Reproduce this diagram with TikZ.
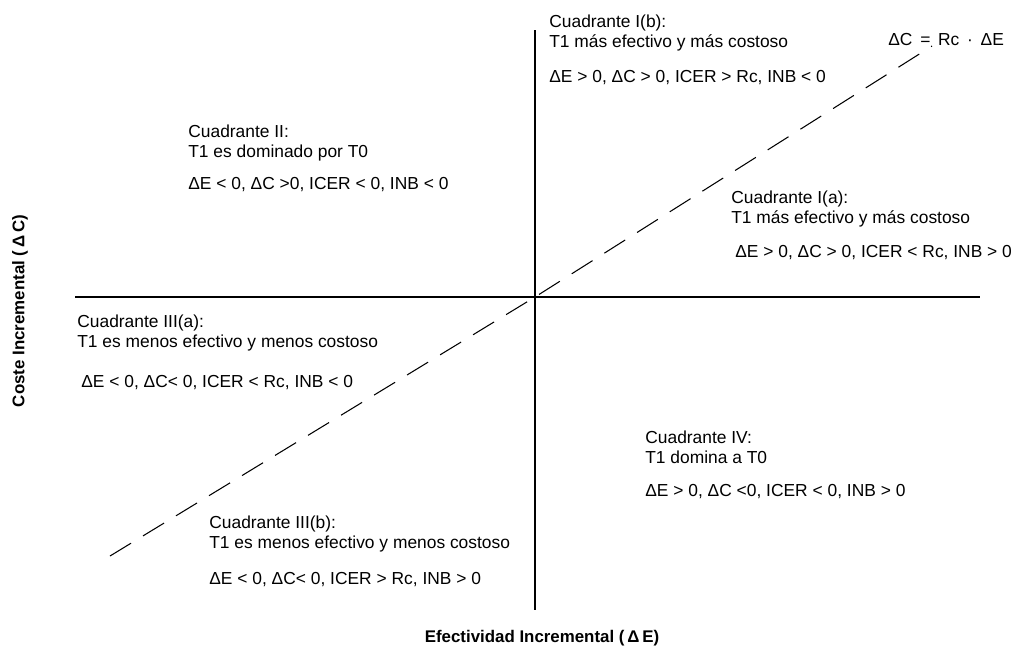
\documentclass[tikz,border=0pt]{standalone}
\usepackage{fontspec}
\setmainfont{Liberation Sans}

\begin{document}
\begin{tikzpicture}[
    x=0.02cm, y=-0.02cm,
    axisline/.style={draw, line width=0.6pt},
    diagonal/.style={draw, line width=0.6pt, dash pattern=on 14pt off 8pt},
    cuadrante/.style={anchor=north west, inner sep=0pt, align=left,
        font=\fontsize{9.9}{11.3}\selectfont},
    formula/.style={anchor=north west, inner sep=0pt,
        font=\fontsize{9.9}{11.3}\selectfont},
    axislabel/.style={inner sep=0pt, font=\fontsize{9.6}{11}\selectfont\bfseries}
]
\useasboundingbox (0,0) rectangle (1014,654);

% ejes
\coordinate (Origen) at (535,297);
\coordinate (EjeIzq) at (75,297);
\coordinate (EjeDer) at (980,297);
\coordinate (EjeArr) at (535,30);
\coordinate (EjeAba) at (535,610);
\coordinate (DiagIni) at (110,556);
\coordinate (DiagFin) at (932,46);

\draw[axisline] (EjeIzq) -- (EjeDer);
\draw[axisline] (EjeArr) -- (EjeAba);
\draw[diagonal] (DiagIni) -- (Origen) -- (DiagFin);

\node (Umbral) [formula] at (888,33) {ΔC \,=\, Rc \,·\, ΔE};

% cuadrantes
\node (TituloIb) [cuadrante] at (549,15) {Cuadrante I(b):\\T1 más efectivo y más costoso};
\node (FormulaIb) [formula] at (549,70) {ΔE > 0, ΔC > 0, ICER > Rc, INB < 0};

\node (TituloII) [cuadrante] at (188,125) {Cuadrante II:\\T1 es dominado por T0};
\node (FormulaII) [formula] at (188,177) {ΔE < 0, ΔC >0, ICER < 0, INB < 0};

\node (TituloIa) [cuadrante] at (731,191) {Cuadrante I(a):\\T1 más efectivo y más costoso};
\node (FormulaIa) [formula] at (735,245) {ΔE > 0, ΔC > 0, ICER < Rc, INB > 0};

\node (TituloIIIa) [cuadrante] at (77,315) {Cuadrante III(a):\\T1 es menos efectivo y menos costoso};
\node (FormulaIIIa) [formula] at (81,375) {ΔE < 0, ΔC< 0, ICER < Rc, INB < 0};

\node (TituloIV) [cuadrante] at (645,431) {Cuadrante IV:\\T1 domina a T0};
\node (FormulaIV) [formula] at (645,484) {ΔE > 0, ΔC <0, ICER < 0, INB > 0};

\node (TituloIIIb) [cuadrante] at (209,516) {Cuadrante III(b):\\T1 es menos efectivo y menos costoso};
\node (FormulaIIIb) [formula] at (209,572) {ΔE < 0, ΔC< 0, ICER > Rc, INB > 0};

% ejes: etiquetas
\node (EtiquetaE) [axislabel] at (542,638) {Efectividad Incremental (\,Δ\,E)};
\node (EtiquetaC) [axislabel, rotate=90] at (20,311) {Coste Incremental (\,Δ\,C)};

\end{tikzpicture}
\end{document}
